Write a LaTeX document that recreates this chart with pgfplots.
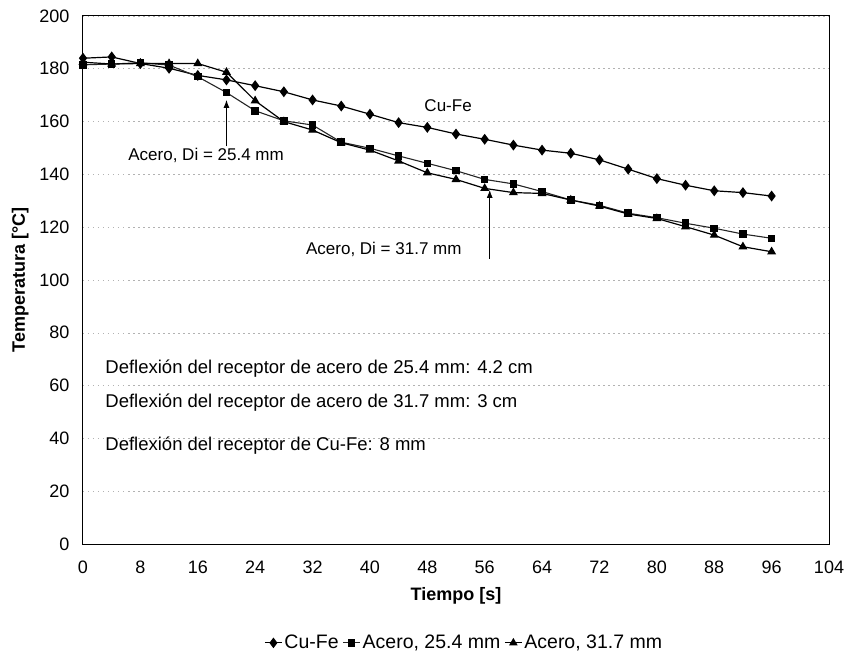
\documentclass[border=0pt]{standalone}
\usepackage{pgfplots}
\pgfplotsset{compat=1.18}
\usetikzlibrary{arrows.meta}
\usepackage{fontspec}
\setmainfont{Liberation Sans}
\pgfplotstableread{
x cufe a254 a317
0 184.0 181.5 182.5
4 184.5 181.8 181.8
8 182.0 182.3 182.0
12 180.2 181.4 182.0
16 177.5 177.0 182.0
20 175.8 171.0 178.7
24 173.6 164.1 167.9
28 171.3 160.3 160.0
32 168.2 158.7 156.8
36 165.9 152.2 152.0
40 162.8 149.9 149.2
44 159.6 147.0 145.1
48 157.8 144.2 140.6
52 155.3 141.4 138.1
56 153.3 138.1 134.7
60 151.1 136.4 133.1
64 149.2 133.5 132.8
68 148.0 130.3 130.3
72 145.5 128.3 128.0
76 142.0 125.3 125.0
80 138.4 123.6 123.3
84 135.9 121.5 120.2
88 133.8 119.6 117.0
92 133.1 117.4 112.6
96 131.8 115.8 110.7
}\datatable
\begin{document}
\begin{tikzpicture}[font=\fontsize{17}{20}\selectfont]
\begin{axis}[
  scale only axis, width=746pt, height=528pt,
  xmin=0, xmax=104, ymin=0, ymax=200,
  xtick={0,8,...,104}, ytick={0,20,...,200},
  major tick length=0pt,
  ymajorgrids,
  grid style={gray!60, dash pattern=on 1.5pt off 3.5pt, line width=0.6pt},
  axis line style={line width=1pt},
  /pgf/number format/assume math mode=true,
  tick label style={font=\fontsize{18}{21}\selectfont},
  yticklabel style={xshift=-10pt},
  xticklabel style={yshift=-13pt},
  xlabel={\textbf{Tiempo [s]}},
  ylabel={\textbf{Temperatura [°C]}},
  label style={font=\fontsize{18}{21}\selectfont},
  xlabel style={yshift=-7pt},
  ylabel style={yshift=4pt},
  legend style={at={(0.511,-0.165)}, anchor=north, draw=none, fill=none,
    legend columns=3, font=\fontsize{19.5}{22}\selectfont,
    /tikz/every even column/.append style={column sep=2pt}},
  legend image post style={line width=1pt},
  clip=false,
]
\addplot[black, line width=1.2pt, mark=diamond*, mark size=4.5pt, mark options={solid}] table[x=x, y=cufe] {\datatable};
\addlegendentry{Cu-Fe}
\addplot[black!85, line width=1.1pt, mark=square*, mark size=3.2pt, mark options={solid, black}] table[x=x, y=a254] {\datatable};
\addlegendentry{Acero, 25.4 mm}
\addplot[black, line width=1.2pt, mark=triangle*, mark size=4pt, mark options={solid}] table[x=x, y=a317] {\datatable};
\addlegendentry{Acero, 31.7 mm}
\node[anchor=center] at (axis cs:50.9,165.9) {Cu-Fe};
\node[anchor=west, inner sep=0pt] at (axis cs:6.3,147.3) {Acero, Di = 25.4 mm};
\draw[-{Latex[length=8pt,width=6pt]}, line width=0.8pt] (axis cs:20,150.6) -- (axis cs:20,168.2);
\node[anchor=east, inner sep=0pt] at (axis cs:52.8,111.4) {Acero, Di = 31.7 mm};
\draw[-{Latex[length=8pt,width=6pt]}, line width=0.8pt] (axis cs:56.7,108) -- (axis cs:56.7,134.1);
\begin{scope}[every node/.style={anchor=west, inner sep=0pt, font=\fontsize{18.5}{22}\selectfont}]
\node at (axis cs:3.1,66.3) {Deflexión del receptor de acero de 25.4 mm: 4.2 cm};
\node at (axis cs:3.1,53.4) {Deflexión del receptor de acero de 31.7 mm: 3 cm};
\node at (axis cs:3.1,37.1) {Deflexión del receptor de Cu-Fe: 8 mm};
\end{scope}
\end{axis}
\path ([shift={(-83pt,-107pt)}]current axis.south west) rectangle ([shift={(19pt,16pt)}]current axis.north east);
\end{tikzpicture}
\end{document}
